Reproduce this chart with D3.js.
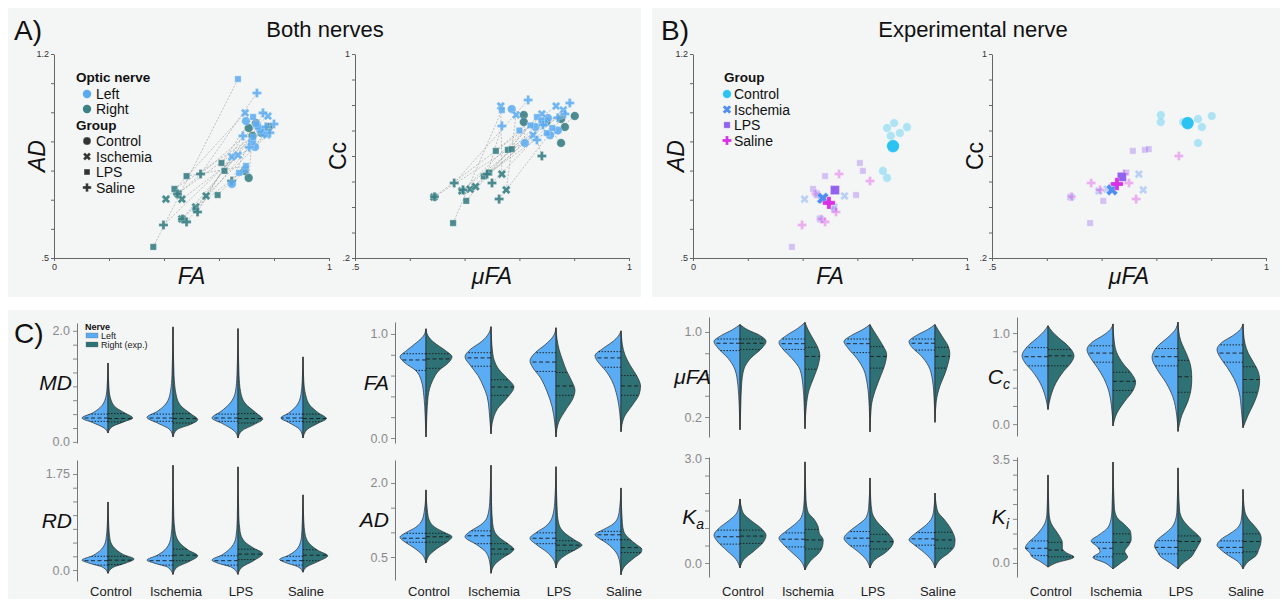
<!DOCTYPE html>
<html><head><meta charset="utf-8">
<script src="https://cdn.jsdelivr.net/npm/d3@7"></script>
<style>
body{margin:0;background:#fff;}
svg{font-family:"Liberation Sans",Arial,Helvetica,sans-serif;}
</style></head><body>
<svg id="chart" width="1286" height="601"></svg>
<script>
// ---------------- DATA ----------------
const groups = ["Control","Ischemia","LPS","Saline"];

// Scatter: experimental (right) nerve
const FA_right = [[.708,.734,.781,.755,.722,.693,.708],[.407,.451,.465,.553,.465,.515],[.609,.62,.482,.438,.595,.515,.361],[.533,.646,.449,.522,.467,.482,.398]];
const AD_right = [[.946,.963,.949,.929,.919,.799,.775],[.702,.720,.702,.713,.634,.675],[.826,.799,.781,.737,.716,.668,.538],[.788,.764,.720,.658,.634,.624,.613]];
// Scatter: left nerve
const FA_left = [[.698,.738,.731,.76,.75,.647,.72],[.695,.778,.774,.647,.669,.695],[.724,.742,.698,.724,.673,.735,.669],[.738,.76,.80,.687,.785,.71,.77]];
const AD_left = [[.970,.956,.881,.93,.94,.754,.90],[.998,.987,.922,.847,.853,.802],[.984,.95,.816,.915,.792,.96,1.114],[1.066,.998,.96,.919,.93,.88,.95]];
const muFA_right = [[.808,.808,.849,.876,.883,.901,.876],[.768,.776,.695,.644,.71,.72],[.679,.703,.757,.779,.786,.735,.745],[.681,.741,.75,.763,.841,.697,.645]];
const Cc_right = [[.761,.733,.733,.745,.714,.757,.651],[.529,.467,.463,.439,.47,.48],[.337,.424,.62,.624,.627,.52,.535],[.494,.529,.494,.431,.60,.467,.44]];
const muFA_left = [[.786,.81,.829,.852,.856,.87,.845],[.766,.794,.841,.867,.88,.825],[.768,.832,.80,.82,.85,.84,.86],[.816,.768,.892,.883,.832,.843,.87]];
const Cc_left = [[.784,.651,.714,.749,.682,.70,.73],[.796,.761,.765,.796,.780,.682],[.780,.753,.70,.72,.69,.74,.71],[.820,.718,.808,.765,.663,.722,.75]];
// Group means of experimental nerve (panel B)
const meanFA_exp = [.730,.474,.518,.496];
const meanAD_exp = [.884,.705,.733,.689];
const meanMuFA_exp = [.857,.719,.737,.728];
const meanCc_exp = [.729,.467,.518,.490];

// Scatter tick values / labels
const faTicks = [0,.2,.4,.6,.8,1], faTickLab = ["0","1"];
const adTicks = [.5,.6,.7,.8,.9,1,1.1,1.2], adTickLab = [".5","1.2"];
const mufaTicks = [.5,.6,.7,.8,.9,1], mufaTickLab = [".5","1"];
const ccTicks = [.2,.3,.4,.5,.6,.7,.8,.9,1], ccTickLab = [".2","1"];

// Violin profiles: [value, relative density] from bottom tip to top tip; order Control, Ischemia, LPS, Saline
const MD_L = [
 [[.16,0],[.25,.15],[.35,.6],[.43,1],[.52,.6],[.62,.3],[.75,.12],[.95,.04],[1.42,0]],
 [[.09,0],[.22,.12],[.34,.6],[.44,1],[.55,.6],[.7,.25],[.9,.1],[1.2,.04],[2.07,0]],
 [[.07,0],[.2,.15],[.33,.6],[.43,1],[.55,.65],[.7,.3],[.9,.1],[1.2,.04],[2.04,0]],
 [[.07,0],[.22,.12],[.35,.55],[.43,.85],[.52,.55],[.65,.25],[.85,.08],[1.1,.03],[1.53,0]]];
const MD_R = [
 [[.16,0],[.27,.15],[.36,.6],[.43,.95],[.52,.65],[.62,.3],[.75,.12],[.95,.04],[1.42,0]],
 [[.09,0],[.22,.15],[.32,.7],[.40,.95],[.5,.7],[.65,.3],[.85,.12],[1.2,.04],[2.07,0]],
 [[.07,0],[.2,.15],[.32,.65],[.41,.95],[.52,.7],[.68,.3],[.9,.1],[1.2,.04],[2.04,0]],
 [[.07,0],[.22,.15],[.34,.6],[.42,.9],[.52,.6],[.65,.28],[.85,.1],[1.1,.03],[1.53,0]]];
const MD_qL = [[.37,.43,.50],[.37,.43,.50],[.37,.43,.50],[.37,.43,.50]];
const MD_qR = [[.36,.42,.51],[.34,.42,.51],[.34,.42,.51],[.36,.42,.50]];

const RD_L = [
 [[-.06,0],[.05,.2],[.13,.75],[.18,1],[.26,.6],[.38,.25],[.55,.08],[.8,.03],[1.24,0]],
 [[-.08,0],[.05,.2],[.13,.75],[.18,1],[.27,.6],[.4,.25],[.6,.08],[.9,.03],[1.91,0]],
 [[-.08,0],[.05,.25],[.13,.8],[.18,1],[.28,.6],[.42,.25],[.6,.08],[.9,.03],[1.88,0]],
 [[-.04,0],[.06,.2],[.14,.7],[.19,.9],[.27,.55],[.4,.2],[.6,.06],[.85,.03],[1.37,0]]];
const RD_R = [
 [[-.06,0],[.05,.2],[.13,.7],[.2,1],[.28,.6],[.4,.25],[.55,.08],[.8,.03],[1.24,0]],
 [[-.08,0],[.05,.15],[.15,.6],[.26,.95],[.36,.6],[.5,.25],[.7,.08],[1.0,.03],[1.91,0]],
 [[-.08,0],[.05,.15],[.17,.6],[.30,.95],[.40,.6],[.52,.25],[.7,.08],[1.0,.03],[1.88,0]],
 [[-.04,0],[.06,.15],[.16,.6],[.26,.95],[.35,.6],[.48,.25],[.65,.08],[.9,.03],[1.37,0]]];
const RD_qL = [[.09,.17,.25],[.09,.17,.26],[.09,.17,.26],[.09,.17,.25]];
const RD_qR = [[.10,.18,.25],[.17,.27,.38],[.19,.29,.38],[.17,.27,.37]];

const FA_vL = [
 [[.01,0],[.2,.03],[.4,.08],[.55,.18],[.65,.4],[.72,.8],[.78,1],[.84,.75],[.92,.35],[.98,.1],[1.05,0]],
 [[.04,0],[.2,.05],[.4,.15],[.5,.3],[.6,.5],[.7,.8],[.78,1],[.85,.8],[.93,.35],[1.0,.1],[1.07,0]],
 [[.01,0],[.15,.05],[.3,.15],[.45,.35],[.58,.6],[.68,.9],[.74,1],[.82,.8],[.9,.4],[.98,.1],[1.06,0]],
 [[.06,0],[.25,.05],[.4,.15],[.55,.35],[.65,.6],[.72,.85],[.79,1],[.86,.7],[.93,.3],[.98,.1],[1.03,0]]];
const FA_vR = [
 [[.01,0],[.2,.03],[.4,.08],[.55,.25],[.65,.5],[.72,.85],[.78,1],[.84,.75],[.92,.3],[.98,.08],[1.05,0]],
 [[.04,0],[.15,.05],[.28,.25],[.38,.6],[.49,.88],[.58,.6],[.66,.3],[.75,.12],[.85,.05],[.95,.02],[1.07,0]],
 [[.01,0],[.15,.1],[.28,.4],[.38,.65],[.46,.73],[.55,.6],[.65,.4],[.75,.25],[.85,.12],[.95,.04],[1.06,0]],
 [[.06,0],[.2,.12],[.32,.45],[.42,.7],[.5,.75],[.6,.6],[.7,.35],[.8,.15],[.9,.05],[.97,.02],[1.03,0]]];
const FA_qL = [[.65,.75,.81],[.69,.77,.82],[.64,.73,.82],[.68,.77,.83]];
const FA_qR = [[.67,.76,.81],[.41,.49,.56],[.41,.50,.63],[.41,.50,.60]];

const AD_vL = [
 [[.38,0],[.55,.15],[.7,.5],[.82,.85],[.9,1],[1.0,.75],[1.1,.4],[1.25,.15],[1.45,.06],[1.86,0]],
 [[.17,0],[.4,.05],[.6,.2],[.75,.55],[.91,1],[1.02,.8],[1.15,.4],[1.3,.15],[1.6,.05],[2.36,0]],
 [[.28,0],[.45,.1],[.6,.35],[.75,.75],[.88,1],[1.0,.75],[1.12,.4],[1.3,.15],[1.6,.05],[2.33,0]],
 [[.14,0],[.4,.05],[.6,.2],[.78,.55],[.9,.9],[.95,1],[1.05,.7],[1.15,.35],[1.3,.12],[1.5,.05],[1.9,0]]];
const AD_vR = [
 [[.38,0],[.55,.15],[.7,.5],[.82,.85],[.91,1],[1.0,.7],[1.1,.35],[1.25,.12],[1.45,.05],[1.86,0]],
 [[.17,0],[.35,.15],[.5,.5],[.6,.8],[.66,.88],[.75,.7],[.88,.35],[1.0,.15],[1.2,.06],[1.6,.02],[2.36,0]],
 [[.28,0],[.45,.15],[.58,.5],[.68,.85],[.74,1],[.85,.7],[.98,.35],[1.15,.12],[1.4,.05],[2.33,0]],
 [[.14,0],[.3,.12],[.48,.5],[.6,.78],[.66,.8],[.75,.6],[.88,.3],[1.0,.12],[1.2,.05],[1.9,0]]];
const AD_qL = [[.80,.88,.98],[.77,.93,1.03],[.77,.88,.99],[.85,.95,1.02]];
const AD_qR = [[.80,.91,.98],[.56,.66,.77],[.63,.74,.83],[.59,.69,.85]];

const muFA_vL = [
 [[.08,0],[.3,.03],[.5,.08],[.65,.2],[.75,.45],[.85,.85],[.91,1],[.97,.7],[1.02,.3],[1.07,0]],
 [[.09,0],[.3,.03],[.5,.08],[.65,.2],[.75,.5],[.84,.85],[.9,1],[.97,.7],[1.03,.3],[1.09,0]],
 [[.06,0],[.3,.03],[.5,.1],[.65,.25],[.75,.5],[.85,.85],[.91,1],[.97,.7],[1.02,.3],[1.07,0]],
 [[.15,0],[.35,.03],[.55,.1],[.68,.25],[.78,.55],[.86,.9],[.91,1],[.97,.7],[1.02,.3],[1.07,0]]];
const muFA_vR = [
 [[.08,0],[.3,.03],[.5,.06],[.65,.15],[.75,.4],[.85,.85],[.91,1],[.97,.75],[1.02,.3],[1.07,0]],
 [[.09,0],[.3,.05],[.45,.15],[.58,.35],[.68,.5],[.78,.57],[.86,.48],[.94,.3],[1.02,.12],[1.09,0]],
 [[.06,0],[.3,.05],[.45,.2],[.58,.4],[.7,.58],[.79,.64],[.87,.5],[.95,.3],[1.02,.12],[1.07,0]],
 [[.15,0],[.35,.05],[.5,.2],[.62,.4],[.72,.52],[.79,.57],[.87,.5],[.95,.3],[1.02,.12],[1.07,0]]];
const muFA_qL = [[.825,.894,.934],[.836,.89,.934],[.806,.89,.934],[.83,.894,.934]];
const muFA_qR = [[.836,.894,.934],[.65,.77,.856],[.66,.77,.862],[.66,.77,.856]];

const Ka_L = [
 [[-.14,0],[.1,.15],[.35,.5],[.6,.85],[.8,1],[1.0,.8],[1.2,.45],[1.4,.15],[1.6,.05],[1.83,0]],
 [[-.2,0],[.05,.15],[.3,.5],[.55,.85],[.71,1],[.9,.75],[1.1,.4],[1.3,.15],[1.6,.05],[2.0,.02],[2.89,0]],
 [[-.14,0],[.1,.15],[.35,.5],[.55,.85],[.71,1],[.9,.8],[1.1,.45],[1.3,.15],[1.6,.05],[2.43,0]],
 [[-.14,0],[.1,.15],[.35,.5],[.55,.85],[.66,1],[.85,.75],[1.05,.4],[1.25,.15],[1.5,.05],[2.0,0]]];
const Ka_R = [
 [[-.14,0],[.1,.15],[.35,.55],[.6,.9],[.79,1],[1.0,.8],[1.2,.45],[1.4,.15],[1.6,.05],[1.83,0]],
 [[-.2,0],[.05,.2],[.3,.55],[.5,.68],[.66,.7],[.85,.55],[1.05,.5],[1.25,.35],[1.45,.12],[1.8,.04],[2.89,0]],
 [[-.14,0],[.1,.2],[.3,.6],[.5,.85],[.61,.9],[.8,.75],[1.0,.5],[1.2,.25],[1.45,.08],[1.8,.03],[2.43,0]],
 [[-.14,0],[.1,.2],[.3,.55],[.5,.75],[.66,.77],[.85,.7],[1.05,.55],[1.25,.35],[1.45,.12],[1.7,.04],[2.0,0]]];
const Ka_qL = [[.54,.75,.94],[.46,.68,.86],[.49,.71,.90],[.51,.69,.87]];
const Ka_qR = [[.56,.77,.94],[.40,.66,.96],[.40,.61,.82],[.42,.66,.88]];

const Cc_vL = [
 [[.16,0],[.3,.1],[.45,.3],[.58,.6],[.68,.9],[.75,1],[.85,.8],[.95,.4],[1.02,.15],[1.08,0]],
 [[-.02,0],[.2,.06],[.35,.15],[.5,.35],[.62,.6],[.72,.85],[.82,1],[.9,.8],[.98,.35],[1.04,.1],[1.1,0]],
 [[-.08,0],[.1,.05],[.3,.2],[.45,.45],[.6,.8],[.73,1],[.85,.8],[.95,.4],[1.03,.12],[1.12,0]],
 [[-.04,0],[.15,.06],[.35,.15],[.5,.35],[.62,.6],[.72,.85],[.82,1],[.9,.8],[.97,.4],[1.04,.1],[1.1,0]]];
const Cc_vR = [
 [[.16,0],[.3,.1],[.45,.3],[.58,.6],[.68,.9],[.75,1],[.85,.8],[.95,.4],[1.02,.15],[1.08,0]],
 [[-.02,0],[.12,.15],[.25,.45],[.36,.75],[.46,.87],[.56,.7],[.66,.4],[.78,.15],[.9,.05],[1.1,0]],
 [[-.08,0],[.1,.15],[.25,.38],[.38,.5],[.5,.53],[.62,.5],[.72,.4],[.82,.25],[.92,.1],[1.02,.03],[1.12,0]],
 [[-.04,0],[.1,.2],[.25,.45],[.38,.6],[.48,.64],[.58,.58],[.68,.4],[.78,.2],[.88,.08],[1.0,.02],[1.1,0]]];
const Cc_qL = [[.64,.74,.84],[.68,.78,.86],[.64,.74,.83],[.68,.78,.87]];
const Cc_qR = [[.64,.75,.82],[.37,.47,.57],[.35,.52,.70],[.35,.49,.63]];

const Ki_L = [
 [[-.14,0],[.05,.3],[.2,.6],[.35,.7],[.51,.87],[.7,.75],[.9,.5],[1.1,.3],[1.35,.12],[1.7,.04],[2.99,0]],
 [[-.2,0],[0,.3],[.19,.77],[.38,.5],[.55,.6],[.75,.84],[.95,.55],[1.15,.25],[1.4,.1],[1.8,.04],[3.43,0]],
 [[-.2,0],[0,.3],[.2,.65],[.4,.8],[.57,.9],[.78,.8],[1.0,.5],[1.2,.25],[1.45,.1],[1.8,.04],[3.23,0]],
 [[-.2,0],[.05,.2],[.25,.55],[.45,.85],[.6,1],[.8,.85],[1.0,.5],[1.2,.2],[1.45,.07],[1.8,.03],[2.5,0]]];
const Ki_R = [
 [[-.14,0],[0,.3],[.2,1],[.35,.7],[.5,.55],[.7,.55],[.9,.45],[1.1,.3],[1.35,.12],[1.7,.04],[2.99,0]],
 [[-.2,0],[0,.3],[.2,.56],[.4,.45],[.6,.6],[.8,.7],[1.05,.68],[1.3,.45],[1.55,.15],[1.9,.05],[3.43,0]],
 [[-.2,0],[0,.2],[.2,.5],[.4,.65],[.6,.78],[.8,.88],[1.0,.7],[1.2,.45],[1.45,.2],[1.8,.06],[3.23,0]],
 [[-.2,0],[.05,.2],[.25,.5],[.45,.6],[.65,.68],[.85,.7],[1.05,.62],[1.25,.45],[1.5,.2],[1.8,.06],[2.5,0]]];
const Ki_qL = [[.25,.50,.75],[.21,.50,.70],[.31,.53,.76],[.35,.53,.75]];
const Ki_qR = [[.21,.44,.70],[.31,.70,.99],[.42,.73,.92],[.38,.73,.99]];

// ---------------- DRAW ----------------
const svg = d3.select("#chart");
const defs = svg.append("defs");
const FONT = '"Liberation Sans",Arial,Helvetica,sans-serif';
const LEFT_COL = "#5aaaf0", RIGHT_COL = "#3a8084";
const LEFT_FILL = "#5aacf4", RIGHT_FILL = "#2f7276";
const GROUP_COL = ["#2cc3f2","#4f8ef0","#9361ef","#d92fe6"];
const shapeTypes = [d3.symbolCircle, d3.symbolCross, d3.symbolSquare, d3.symbolCross];
const shapeRot = [0,45,0,0];
const pointSize = [58,46,40,46];
const meanSize = [125,85,80,85];

// panel backgrounds
[[8,8,633,289],[652,8,628,289],[8,310,1272,289]].forEach(b=>{
  svg.append("rect").attr("x",b[0]).attr("y",b[1]).attr("width",b[2]).attr("height",b[3]).attr("fill","#f4f5f5");
});

function txt(x,y,s,opt={}){
  return svg.append("text").attr("x",x).attr("y",y).text(s)
    .attr("font-size",opt.size||14).attr("font-weight",opt.bold?"bold":null)
    .attr("font-style",opt.italic?"italic":null).attr("text-anchor",opt.anchor||"start")
    .attr("fill",opt.fill||"#111");
}
txt(14,40,"A)",{size:28});
txt(325,37,"Both nerves",{size:22,anchor:"middle"});
txt(661,40,"B)",{size:28});
txt(973,37,"Experimental nerve",{size:22,anchor:"middle"});
txt(14,343,"C)",{size:28});

function styleAx(g){
  g.attr("font-family",FONT).attr("font-size",9);
  g.select(".domain").attr("stroke","#666");
  g.selectAll(".tick line").attr("stroke","#666");
  g.selectAll(".tick text").attr("fill","#333");
}
function endFmt(ticks, labs){ return (d,i)=> i===0?labs[0]:(i===ticks.length-1?labs[1]:""); }

function scatterAxes(x,y,xt,xl,yt,yl,xTitle,yTitle,yItalic){
  const yb = y.range()[0], xl0 = x.range()[0];
  svg.append("g").attr("transform",`translate(0,${yb})`)
    .call(d3.axisBottom(x).tickValues(xt).tickSize(3).tickSizeOuter(0).tickPadding(3).tickFormat(endFmt(xt,xl))).call(styleAx);
  svg.append("g").attr("transform",`translate(${xl0},0)`)
    .call(d3.axisLeft(y).tickValues(yt).tickSize(3).tickSizeOuter(0).tickPadding(2).tickFormat(endFmt(yt,yl))).call(styleAx);
  txt((x.range()[0]+x.range()[1])/2, 284, xTitle,{size:23,italic:true,anchor:"middle"});
  const yc = (y.range()[0]+y.range()[1])/2;
  svg.append("text").attr("transform",`translate(${xl0-9},${yc}) rotate(-90)`).attr("text-anchor","middle")
    .attr("font-size",23).attr("font-style",yItalic?"italic":null).attr("fill","#111").text(yTitle);
}
function sym(gi,size,x,y,fill,op){
  return svg.append("path").attr("d",d3.symbol().type(shapeTypes[gi]).size(size)())
    .attr("transform",`translate(${x},${y}) rotate(${shapeRot[gi]})`).attr("fill",fill).attr("fill-opacity",op)
    .attr("stroke","#ffffff").attr("stroke-width",0.5).attr("stroke-opacity",0.5);
}

// Scales
const xA1 = d3.scaleLinear([0,1],[54,329]), yA1 = d3.scaleLinear([.5,1.2],[258,54]);
const xA2 = d3.scaleLinear([.5,1],[355,629]), yA2 = d3.scaleLinear([.2,1],[258,54]);
const xB1 = d3.scaleLinear([0,1],[693,967]), yB1 = d3.scaleLinear([.5,1.2],[258,54]);
const xB2 = d3.scaleLinear([.5,1],[992,1266]), yB2 = d3.scaleLinear([.2,1],[258,54]);

scatterAxes(xA1,yA1,faTicks,faTickLab,adTicks,adTickLab,"FA","AD",true);
scatterAxes(xA2,yA2,mufaTicks,mufaTickLab,ccTicks,ccTickLab,"\u03bcFA","Cc",false);
scatterAxes(xB1,yB1,faTicks,faTickLab,adTicks,adTickLab,"FA","AD",true);
scatterAxes(xB2,yB2,mufaTicks,mufaTickLab,ccTicks,ccTickLab,"\u03bcFA","Cc",false);

function pairedPanel(x,y,XL,YL,XR,YR){
  groups.forEach((g,gi)=>{
    XR[gi].forEach((v,j)=>{
      svg.append("line").attr("x1",x(XR[gi][j])).attr("y1",y(YR[gi][j])).attr("x2",x(XL[gi][j])).attr("y2",y(YL[gi][j]))
        .attr("stroke","#9a9a9a").attr("stroke-width",0.6).attr("stroke-dasharray","2,1.5");
    });
  });
  groups.forEach((g,gi)=> XR[gi].forEach((v,j)=> sym(gi,pointSize[gi],x(XR[gi][j]),y(YR[gi][j]),RIGHT_COL,0.9)));
  groups.forEach((g,gi)=> XL[gi].forEach((v,j)=> sym(gi,pointSize[gi],x(XL[gi][j]),y(YL[gi][j]),LEFT_COL,0.85)));
}
pairedPanel(xA1,yA1,FA_left,AD_left,FA_right,AD_right);
pairedPanel(xA2,yA2,muFA_left,Cc_left,muFA_right,Cc_right);

function expPanel(x,y,X,Y,MX,MY){
  groups.forEach((g,gi)=> X[gi].forEach((v,j)=> sym(gi,pointSize[gi],x(X[gi][j]),y(Y[gi][j]),GROUP_COL[gi],0.35)));
  groups.forEach((g,gi)=> sym(gi,meanSize[gi],x(MX[gi]),y(MY[gi]),GROUP_COL[gi],1));
}
expPanel(xB1,yB1,FA_right,AD_right,meanFA_exp,meanAD_exp);
expPanel(xB2,yB2,muFA_right,Cc_right,meanMuFA_exp,meanCc_exp);

// Legend A
txt(76,82,"Optic nerve",{size:13.5,bold:true});
svg.append("circle").attr("cx",87).attr("cy",94).attr("r",4.2).attr("fill",LEFT_COL);
txt(96,99,"Left",{size:14});
svg.append("circle").attr("cx",87).attr("cy",109).attr("r",4.2).attr("fill",RIGHT_COL);
txt(96,114,"Right",{size:14});
txt(76,130,"Group",{size:13.5,bold:true});
groups.forEach((g,gi)=>{ sym(gi,pointSize[gi]*0.85,87,141+gi*15.5,"#333",1); txt(96,146+gi*15.5,g,{size:14}); });
// Legend B
txt(724,82,"Group",{size:13.5,bold:true});
groups.forEach((g,gi)=>{ sym(gi,pointSize[gi],727,94+gi*15.5,GROUP_COL[gi],1); txt(734,99+gi*15.5,g,{size:14}); });

// ---------------- Panel C violins ----------------
const colAxisX = [77,395,709,1017];
const metrics = [
 {key:"MD",col:0,domain:[-.02,2.14],range:[443,323],ticks:[0,.25,.5,.75,1,1.25,1.5,1.75,2],lab:["0.0","2.0"],lx:72,L:MD_L,R:MD_R,qL:MD_qL,qR:MD_qR,title:["MD",""]},
 {key:"RD",col:0,domain:[-.2,2.005],range:[581,460],ticks:[0,.25,.5,.75,1,1.25,1.5,1.75],lab:["0.0","1.75"],lx:72,L:RD_L,R:RD_R,qL:RD_qL,qR:RD_qR,title:["RD",""]},
 {key:"FA",col:1,domain:[-.048,1.115],range:[443,322],ticks:[0,.2,.4,.6,.8,1],lab:["0.0","1.0"],lx:389,L:FA_vL,R:FA_vR,qL:FA_qL,qR:FA_qR,title:["FA",""]},
 {key:"AD",col:1,domain:[.034,2.466],range:[580,460],ticks:[.5,1,1.5,2],lab:["0.5","2.0"],lx:389,L:AD_vL,R:AD_vR,qL:AD_qL,qR:AD_qR,title:["AD",""]},
 {key:"muFA",col:2,domain:[.012,1.141],range:[437,317],ticks:[.2,.4,.6,.8,1],lab:["0.2","1.0"],lx:711,L:muFA_vL,R:muFA_vR,qL:muFA_qL,qR:muFA_qR,title:["\u03bcFA",""]},
 {key:"Ka",col:2,domain:[-.4,3.03],range:[577,457],ticks:[0,.5,1,1.5,2,2.5,3],lab:["0.0","3.0"],lx:704,L:Ka_L,R:Ka_R,qL:Ka_qL,qR:Ka_qR,title:["K","a"]},
 {key:"Cc",col:3,domain:[-.13,1.176],range:[436,317],ticks:[0,.2,.4,.6,.8,1],lab:["0.0","1.0"],lx:1010,L:Cc_vL,R:Cc_vR,qL:Cc_qL,qR:Cc_qR,title:["C","c"]},
 {key:"Ki",col:3,domain:[-.476,3.6],range:[577,457],ticks:[0,.5,1,1.5,2,2.5,3,3.5],lab:["0.0","3.5"],lx:1009,L:Ki_L,R:Ki_R,qL:Ki_qL,qR:Ki_qR,title:["K","i"]}
];
const wScale = d3.scaleLinear([0,1],[0,26]);

metrics.forEach(m=>{
  const y = d3.scaleLinear(m.domain,m.range);
  const ax = colAxisX[m.col];
  const xp = d3.scalePoint(groups,[ax+31,ax+226]);
  svg.append("g").attr("transform",`translate(${ax},0)`)
    .call(d3.axisLeft(y).tickValues(m.ticks).tickSize(4).tickSizeOuter(0).tickPadding(3).tickFormat(endFmt(m.ticks,m.lab)))
    .call(g=>{ g.attr("font-family",FONT).attr("font-size",12.5);
      g.select(".domain").attr("stroke","#777"); g.selectAll(".tick line").attr("stroke","#888");
      g.selectAll(".tick text").attr("fill","#8a8a8a"); });
  const ym = (m.range[0]+m.range[1])/2;
  const t = svg.append("text").attr("x",m.lx).attr("y",ym+7).attr("text-anchor","end")
    .attr("font-size",21).attr("font-style","italic").attr("fill","#111");
  t.append("tspan").text(m.title[0]);
  if(m.title[1]) t.append("tspan").attr("font-size",14).attr("dy",5).text(m.title[1]);

  groups.forEach((gname,gi)=>{
    const cx = xp(gname);
    [[m.L,m.qL,-1,LEFT_FILL],[m.R,m.qR,1,RIGHT_FILL]].forEach(([P,Q,s,fill],k)=>{
      const area = d3.area().curve(d3.curveMonotoneY).y(d=>y(d[0])).x0(cx).x1(d=>cx+s*wScale(d[1]));
      const id = `clip-${m.key}-${gi}-${k}`;
      const dpath = area(P[gi]);
      defs.append("clipPath").attr("id",id).append("path").attr("d",dpath);
      svg.append("path").attr("d",dpath).attr("fill",fill).attr("stroke","#2a2a2a").attr("stroke-width",0.7);
      Q[gi].forEach((q,qi)=>{
        svg.append("line").attr("x1",cx).attr("x2",cx+s*30).attr("y1",y(q)).attr("y2",y(q))
          .attr("clip-path",`url(#${id})`).attr("stroke","#1a1a1a").attr("stroke-width",0.9)
          .attr("stroke-dasharray",qi===1?"4,2.5":"1.5,1.5");
      });
    });
  });
  if(m.range[0]>500){
    groups.forEach(gname=> txt(xp(gname)+3,596,gname,{size:13,anchor:"middle",fill:"#222"}));
  }
});

// Legend C
txt(85,330,"Nerve",{size:9,bold:true});
svg.append("rect").attr("x",86).attr("y",333).attr("width",12).attr("height",5).attr("fill",LEFT_FILL).attr("stroke","#666").attr("stroke-width",0.3);
txt(101,339,"Left",{size:9,fill:"#222"});
svg.append("rect").attr("x",86).attr("y",342).attr("width",12).attr("height",5).attr("fill",RIGHT_FILL).attr("stroke","#666").attr("stroke-width",0.3);
txt(101,348,"Right (exp.)",{size:9,fill:"#222"});
</script>
</body></html>
